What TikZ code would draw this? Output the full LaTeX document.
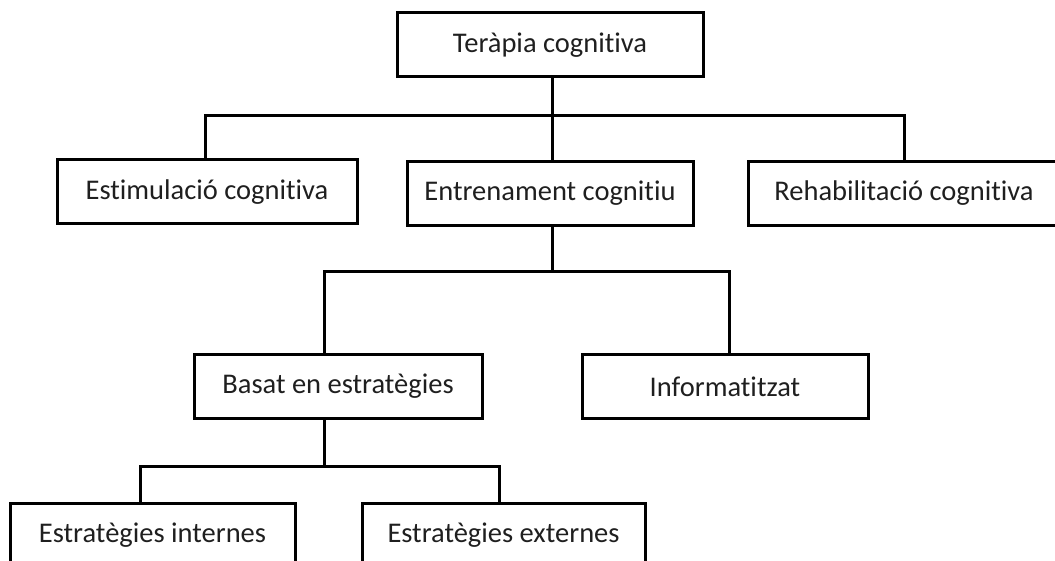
\documentclass[tikz,border=0pt]{standalone}
\usepackage{fontspec}
\setmainfont{Carlito}[Ligatures={NoCommon}]
\usepackage{tikz}
\usetikzlibrary{calc,positioning}

\begin{document}
\begin{tikzpicture}[x=1pt,y=-1pt]
\tikzstyle{box}=[draw, line width=3pt, rectangle, minimum height=64pt, inner sep=0pt, font=\fontsize{28.5}{32}\selectfont, text=black!88]
\tikzstyle{con}=[line width=3pt]
\useasboundingbox (0,0) rectangle (1055,561);

\node[box, minimum width=306pt] (tc) at (550,45) {Teràpia cognitiva};
\node[box, minimum width=300pt] (est) at (207,192) {Estimulació cognitiva};
\node[box, minimum width=286pt] (ent) at (550,193.5) {Entrenament cognitiu};
\node[box, minimum width=312pt] (reh) at (904,193.5) {Rehabilitació cognitiva};
\node[box, minimum width=288pt] (bas) at (338,386) {Basat en estratègies};
\node[box, minimum width=286pt] (inf) at (725,386.5) {Informatitzat};
\node[box, minimum width=285pt] (int) at (152.5,535) {Estratègies internes};
\node[box, minimum width=283pt] (ext) at (503.5,535) {Estratègies externes};

% branch points
\coordinate (j1) at (552,116);
\coordinate (j2) at (552,272);
\coordinate (j3) at (324,466);

\draw[con] (tc.south -| j1) -- (j1);
\draw[con] (j1) -| (est.north -| 205,0);
\draw[con] (j1) -- (ent.north -| j1);
\draw[con] (j1) -| (reh.north);

\draw[con] (ent.south -| j2) -- (j2);
\draw[con] (j2) -| (bas.north -| 324,0);
\draw[con] (j2) -| (inf.north -| 729,0);

\draw[con] (bas.south -| j3) -- (j3);
\draw[con] (j3) -| (int.north -| 140,0);
\draw[con] (j3) -| (ext.north -| 499,0);
\end{tikzpicture}
\end{document}
